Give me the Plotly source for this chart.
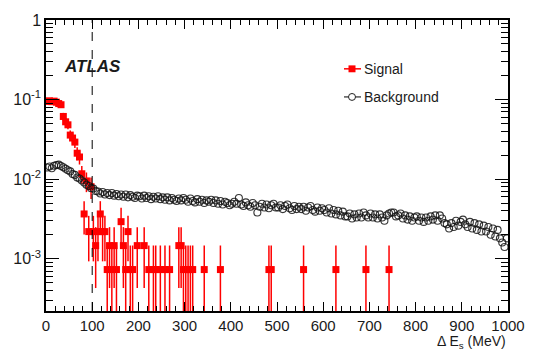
import math
import plotly.graph_objects as go

# ---------------- data ----------------
BIN_WIDTH = 5.0  # MeV
N_BINS = 200

# Background: normalised entries per 5 MeV bin, 0-1000 MeV
background = [
    0.0140, 0.0144, 0.0137, 0.0147, 0.0150, 0.0152, 0.0146, 0.0141, 0.0135, 0.0129,
    0.0125, 0.0116, 0.0113, 0.0105, 0.0102, 0.0096, 0.0091, 0.0085, 0.0082, 0.0077,
    0.0076, 0.0071, 0.0070, 0.0066, 0.0069, 0.0064, 0.0067, 0.0063, 0.0067, 0.0062,
    0.0065, 0.0061, 0.0064, 0.0060, 0.0064, 0.0059, 0.0063, 0.0060, 0.0058, 0.0062,
    0.0061, 0.0057, 0.0062, 0.0058, 0.0061, 0.0056, 0.0060, 0.0057, 0.0061, 0.0056,
    0.0059, 0.0055, 0.0059, 0.0054, 0.0058, 0.0055, 0.0053, 0.0057, 0.0054, 0.0058,
    0.0055, 0.0052, 0.0057, 0.0053, 0.0051, 0.0056, 0.0052, 0.0055, 0.0050, 0.0054,
    0.0052, 0.0055, 0.0050, 0.0054, 0.0049, 0.0053, 0.0048, 0.0052, 0.0050, 0.0047,
    0.0049, 0.0052, 0.0049, 0.0058, 0.0048, 0.0046, 0.0051, 0.0047, 0.0045, 0.0050,
    0.0047, 0.0038, 0.0045, 0.0049, 0.0044, 0.0048, 0.0043, 0.0047, 0.0049, 0.0044,
    0.0044, 0.0047, 0.0042, 0.0046, 0.0048, 0.0043, 0.0041, 0.0046, 0.0042, 0.0045,
    0.0042, 0.0045, 0.0040, 0.0044, 0.0046, 0.0041, 0.0039, 0.0044, 0.0040, 0.0043,
    0.0041, 0.0038, 0.0043, 0.0037, 0.0041, 0.0036, 0.0040, 0.0035, 0.0039, 0.0034,
    0.0034, 0.0037, 0.0032, 0.0036, 0.0033, 0.0037, 0.0033, 0.0038, 0.0035, 0.0033,
    0.0037, 0.0033, 0.0036, 0.0032, 0.0036, 0.0033, 0.0030, 0.0035, 0.0037, 0.0038,
    0.0038, 0.0034, 0.0035, 0.0037, 0.0032, 0.0035, 0.0031, 0.0034, 0.0030, 0.0033,
    0.0034, 0.0030, 0.0033, 0.0029, 0.0033, 0.0030, 0.0034, 0.0031, 0.0035, 0.0030,
    0.0035, 0.0032, 0.0028, 0.0027, 0.0024, 0.0028, 0.0025, 0.0030, 0.0026, 0.0029,
    0.0031, 0.0027, 0.0025, 0.0029, 0.0024, 0.0028, 0.0023, 0.0027, 0.0022, 0.0026,
    0.0022, 0.0025, 0.0020, 0.0024, 0.0019, 0.0023, 0.0018, 0.0016, 0.0014, 0.0018,
]

# Signal: bin centres (MeV) and raw counts of non-empty bins
SIGNAL_TOTAL = 1370.0
signal_x = [
    2.5, 7.5, 12.5, 17.5, 22.5, 27.5, 32.5, 37.5, 42.5, 47.5,
    52.5, 57.5, 62.5, 67.5, 72.5, 77.5, 82.5, 87.5, 92.5, 97.5,
    102.5, 107.5, 112.5, 117.5, 122.5, 127.5, 132.5, 137.5, 142.5, 147.5,
    152.5, 162.5, 167.5, 172.5, 177.5, 182.5, 187.5, 197.5, 212.5, 222.5,
    232.5, 237.5, 247.5, 257.5, 267.5, 287.5, 292.5, 297.5, 302.5, 307.5,
    312.5, 317.5, 342.5, 377.5, 482.5, 487.5, 557.5, 627.5, 692.5, 742.5,
]
signal_counts = [
    130, 132, 129, 131, 127, 122, 118, 84, 72, 66,
    49, 45, 40, 29, 26, 16, 5, 13, 3, 11,
    3, 2, 3, 5, 3, 3, 1, 2, 1, 2,
    1, 4, 2, 1, 3, 1, 1, 2, 2, 1,
    1, 1, 1, 1, 1, 2, 2, 1, 1, 1,
    1, 1, 1, 1, 1, 1, 1, 1, 1, 1,
]

CUT_VALUE = 100  # MeV, dashed line
y_tickvals = [1e-3, 1e-2, 1e-1, 1]
y_ticktext = ["10<sup>-3</sup>", "10<sup>-2</sup>", "10<sup>-1</sup>", "1"]
x_tickvals = list(range(0, 1001, 100))

# ---------------- derived ----------------
bg_x = [BIN_WIDTH * (i + 0.5) for i in range(N_BINS)]
signal_y = [c / SIGNAL_TOTAL for c in signal_counts]
signal_err = [math.sqrt(c) / SIGNAL_TOTAL for c in signal_counts]

Y_MIN, Y_MAX = 2.2e-4, 1.0
minor_y = [k * 10 ** e for e in range(-4, 0) for k in range(2, 10) if k * 10 ** e > Y_MIN]

# layout geometry (pixels)
W, H = 538, 353
ML, MR, MT, MB = 46, 30, 16, 42
PW, PH = W - ML - MR, H - MT - MB


def px(x):
    return (x - ML) / PW


def py(y):
    return (H - MB - y) / PH


FONT = "Liberation Sans, Arial, Helvetica, sans-serif"
TXT = "#1a1a1a"

fig = go.Figure()

fig.add_trace(go.Scatter(
    x=signal_x, y=signal_y, mode="markers", name="Signal",
    marker=dict(symbol="square", size=7, color="#ff0000"),
    error_y=dict(type="data", array=signal_err, visible=True,
                 color="#ff0000", thickness=1.5, width=0),
    showlegend=False,
))

fig.add_trace(go.Scatter(
    x=bg_x, y=background, mode="markers", name="Background",
    marker=dict(symbol="circle-open", size=7,
                color="rgba(20,20,20,0.85)", line=dict(width=1.1)),
    showlegend=False,
))

shapes = [
    dict(type="line", xref="x", yref="paper", x0=CUT_VALUE, x1=CUT_VALUE,
         y0=0, y1=1, line=dict(color="black", width=1, dash="dash")),
    # legend glyphs
    dict(type="line", xref="paper", yref="paper", x0=px(344), x1=px(361),
         y0=py(65.5), y1=py(65.5), line=dict(color="#ff0000", width=1.5)),
    dict(type="rect", xref="paper", yref="paper", x0=px(348.5), x1=px(355.5),
         y0=py(69), y1=py(62), fillcolor="#ff0000", line=dict(width=0)),
    dict(type="line", xref="paper", yref="paper", x0=px(344), x1=px(361),
         y0=py(94), y1=py(94), line=dict(color="black", width=1)),
    dict(type="circle", xref="paper", yref="paper", x0=px(348.5), x1=px(355.5),
         y0=py(97.5), y1=py(90.5), fillcolor="white",
         line=dict(color="#222", width=1)),
]

annotations = [
    dict(text="<b><i>ATLAS</i></b>", xref="paper", yref="paper",
         x=px(62), y=py(63), xanchor="left", yanchor="middle", showarrow=False,
         font=dict(family=FONT, size=17, color=TXT)),
    dict(text="Signal", xref="paper", yref="paper", x=px(362), y=py(65.5),
         xanchor="left", yanchor="middle", showarrow=False,
         font=dict(family=FONT, size=14, color=TXT)),
    dict(text="Background", xref="paper", yref="paper", x=px(362), y=py(94),
         xanchor="left", yanchor="middle", showarrow=False,
         font=dict(family=FONT, size=14, color=TXT)),
    dict(text="Δ E<sub>s</sub> (MeV)", xref="paper", yref="paper", x=1.0, y=py(354),
         xanchor="right", yanchor="bottom", showarrow=False,
         font=dict(family=FONT, size=14, color=TXT)),
]

fig.update_layout(
    width=W, height=H,
    margin=dict(l=ML, r=MR, t=MT, b=MB),
    paper_bgcolor="white", plot_bgcolor="white",
    font=dict(family=FONT, size=16, color=TXT),
    shapes=shapes, annotations=annotations,
    showlegend=False,
)

fig.update_xaxes(
    range=[0, 1000], tickvals=x_tickvals, ticks="inside", ticklen=9,
    tickwidth=1, tickcolor="black", showline=True, linecolor="black",
    linewidth=1.5, mirror="allticks", showgrid=False, zeroline=False,
    tickfont=dict(size=15, color=TXT),
    minor=dict(dtick=20, ticks="inside", ticklen=5, tickcolor="black",
               showgrid=False),
)

fig.update_yaxes(
    type="log", range=[math.log10(Y_MIN), math.log10(Y_MAX)],
    tickvals=y_tickvals, ticktext=y_ticktext, ticks="inside", ticklen=13,
    tickwidth=1, tickcolor="black", showline=True, linecolor="black",
    linewidth=1.5, mirror="allticks", showgrid=False, zeroline=False,
    tickfont=dict(size=16, color=TXT),
    minor=dict(tickvals=minor_y, ticks="inside", ticklen=7,
               tickcolor="black", showgrid=False),
)

fig.write_html("out.html")
